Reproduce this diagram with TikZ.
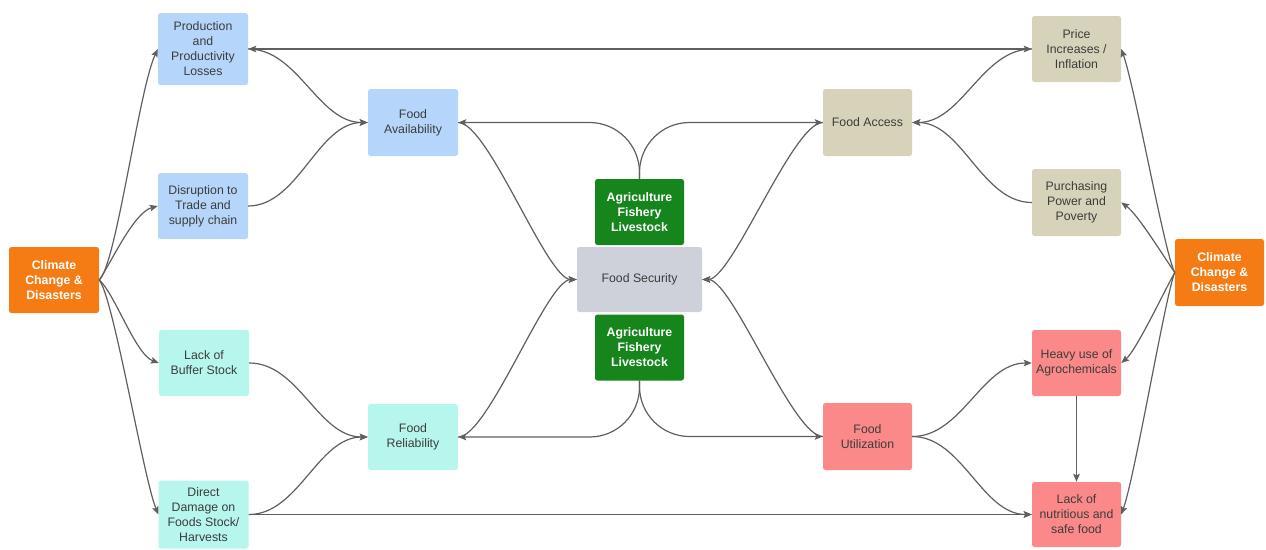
\documentclass[tikz,border=0pt]{standalone}
\usepackage{fontspec}
\setmainfont{Liberation Sans}
\usetikzlibrary{arrows.meta}

\definecolor{hazard}{RGB}{245,124,20}
\definecolor{availfill}{RGB}{181,214,250}
\definecolor{relifill}{RGB}{182,246,236}
\definecolor{agrifill}{RGB}{22,134,28}
\definecolor{secfill}{RGB}{206,209,217}
\definecolor{accessfill}{RGB}{215,211,186}
\definecolor{utilfill}{RGB}{252,137,137}
\definecolor{ink}{RGB}{60,60,60}
\definecolor{wire}{RGB}{95,95,95}

\begin{document}
\begin{tikzpicture}[x=1pt,y=-1pt,
  box/.style={rectangle, rounded corners=2.5pt, align=center, inner sep=0pt,
    font=\fontsize{12.3}{15}\selectfont, text=ink,
    minimum width=90pt, minimum height=66pt},
  hot/.style={box, fill=hazard, text=white,
    font=\fontsize{12.3}{15}\selectfont\bfseries},
  agri/.style={box, fill=agrifill, text=white, minimum width=89pt,
    font=\fontsize{12.3}{15}\selectfont\bfseries},
  avl/.style={box, fill=availfill},
  rel/.style={box, fill=relifill},
  sec/.style={box, fill=secfill, minimum width=125pt, minimum height=65pt},
  acc/.style={box, fill=accessfill, minimum width=89pt},
  utl/.style={box, fill=utilfill, minimum width=89pt},
  tip/.tip={Stealth[length=8pt,width=6.5pt,inset=1.5pt]},
  arr/.style={draw=wire, line width=1.2pt, -tip},
  both/.style={draw=wire, line width=1.2pt, tip-tip},
  elbow/.style={arr, rounded corners=50pt},
]
\useasboundingbox (0,0) rectangle (1266,549);

% ---- nodes ----
\node[hot] (climL) at (54,280) {Climate\\Change \&\\Disasters};
\node[avl, minimum height=72pt] (prod) at (203,49) {Production\\and\\Productivity\\Losses};
\node[avl] (disr) at (203,206) {Disruption to\\Trade and\\supply chain};
\node[rel] (buff) at (204,363) {Lack of\\Buffer Stock};
\node[rel, minimum height=68pt] (dmg) at (203.5,514.5) {Direct\\Damage on\\Foods Stock/\\Harvests};
\node[avl, minimum height=67pt] (avail) at (413,122.5) {Food\\Availability};
\node[rel] (reli) at (413,437) {Food\\Reliability};

\node[agri] (agT) at (639.5,212) {Agriculture\\Fishery\\Livestock};
\node[sec] (fsec) at (639.5,279.5) {Food Security};
\node[agri] (agB) at (639.5,347.5) {Agriculture\\Fishery\\Livestock};

\node[acc, minimum height=67pt] (access) at (867.5,122.5) {Food Access};
\node[utl, minimum height=67pt] (util) at (867.5,436.5) {Food\\Utilization};
\node[acc] (price) at (1076.5,49) {Price\\Increases /\\Inflation};
\node[acc, minimum height=67pt] (purch) at (1076.5,202.5) {Purchasing\\Power and\\Poverty};
\node[hot, minimum width=89pt, minimum height=67pt] (climR) at (1219.5,272.5) {Climate\\Change \&\\Disasters};
\node[utl] (heavy) at (1076.5,363) {Heavy use of\\Agrochemicals};
\node[utl, minimum height=65pt] (lack) at (1076.5,514.5) {Lack of\\nutritious and\\safe food};

% ---- left fan from climate ----
\draw[arr] (climL.east) to[out=40,in=245,out distance=22pt,in distance=45pt] (prod.west);
\draw[arr] (climL.east) to[out=55,in=195,out distance=20pt,in distance=25pt] (disr.west);
\draw[arr] (climL.east) to[out=-40,in=160,out distance=20pt,in distance=25pt] (buff.west);
\draw[arr] (climL.east) to[out=-50,in=112,out distance=22pt,in distance=40pt] (dmg.west);

% ---- right fan from climate ----
\draw[arr] (climR.west) to[out=120,in=-70,out distance=20pt,in distance=40pt] (price.east);
\draw[arr] (climR.west) to[out=125,in=-35,out distance=20pt,in distance=20pt] (purch.east);
\draw[arr] (climR.west) to[out=-120,in=40,out distance=20pt,in distance=20pt] (heavy.east);
\draw[arr] (climR.west) to[out=-115,in=70,out distance=20pt,in distance=40pt] (lack.east);

% ---- long straight links ----
\draw[both] (prod.east) -- (price.west);
\draw[arr] (dmg.east) -- (lack.west);
\draw[arr] (heavy.south) -- (lack.north);

% ---- dimension drivers ----
\draw[arr] (prod.east) to[out=0,in=180,out distance=50pt,in distance=50pt] (avail.west);
\draw[arr] (disr.east) to[out=0,in=180,out distance=50pt,in distance=50pt] (avail.west);
\draw[arr] (buff.east) to[out=0,in=180,out distance=50pt,in distance=50pt] (reli.west);
\draw[arr] (dmg.east) to[out=0,in=180,out distance=50pt,in distance=50pt] (reli.west);
\draw[arr] (price.west) to[out=180,in=0,out distance=50pt,in distance=50pt] (access.east);
\draw[arr] (purch.west) to[out=180,in=0,out distance=50pt,in distance=50pt] (access.east);
\draw[arr] (util.east) to[out=0,in=180,out distance=50pt,in distance=50pt] (heavy.west);
\draw[arr] (util.east) to[out=0,in=180,out distance=50pt,in distance=50pt] (lack.west);

% ---- sectors feeding the dimensions ----
\draw[elbow] (agT.north) |- (avail.east);
\draw[elbow] (agT.north) |- (access.west);
\draw[elbow] (agB.south) |- (reli.east);
\draw[elbow] (agB.south) |- (util.west);

% ---- dimensions into food security ----
\draw[arr] (avail.east) to[out=0,in=180,out distance=30pt,in distance=30pt] (fsec.west);
\draw[arr] (reli.east) to[out=0,in=180,out distance=30pt,in distance=30pt] (fsec.west);
\draw[arr] (access.west) to[out=180,in=0,out distance=30pt,in distance=30pt] (fsec.east);
\draw[arr] (util.west) to[out=180,in=0,out distance=30pt,in distance=30pt] (fsec.east);
\end{tikzpicture}
\end{document}
